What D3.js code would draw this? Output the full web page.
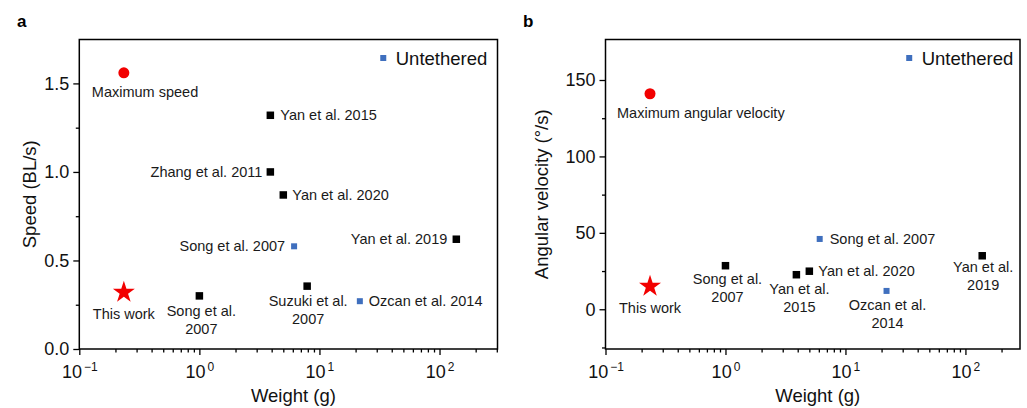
<!DOCTYPE html>
<html>
<head>
<meta charset="utf-8">
<script src="https://cdnjs.cloudflare.com/ajax/libs/d3/7.8.5/d3.min.js"></script>
<style>
  body { margin: 0; background: #fff; }
  svg { display: block; font-family: "Liberation Sans", Arial, sans-serif; }
</style>
</head>
<body>
<svg width="1027" height="408"></svg>
<script>
// panel a - speed (BL/s) vs weight (g)
var speedNames = ["Yan et al. 2015", "Zhang et al. 2011", "Yan et al. 2020", "Song et al. 2007",
                  "Yan et al. 2019", "Song et al.\n2007", "Suzuki et al.\n2007", "Ozcan et al. 2014"];
var speedWeight = [3.9, 3.9, 5.0, 6.15, 138, 1.0, 7.9, 21.7];
var speedValues = [1.32, 1.0, 0.87, 0.58, 0.62, 0.30, 0.355, 0.27];
var speedUntethered = [false, false, false, true, false, false, false, true];

// panel b - angular velocity (deg/s) vs weight (g)
var angNames = ["Song et al.\n2007", "Yan et al.\n2015", "Yan et al. 2020", "Song et al. 2007",
                "Yan et al.\n2019", "Ozcan et al.\n2014"];
var angWeight = [1.0, 3.9, 5.0, 6.1, 138, 22];
var angValues = [28.5, 22.6, 24.9, 46, 35, 12];
var angUntethered = [false, false, false, true, false, true];

// this work
var thisWorkWeight = 0.235;
var thisWorkSpeed = 0.32, maxSpeed = 1.56;
var thisWorkAng = 15, maxAng = 141;

var weightTicks = [0.1, 1, 10, 100];
var weightExp = ["\u22121", "0", "1", "2"];
var speedTicks = [0, 0.5, 1.0, 1.5];
var angTicks = [0, 50, 100, 150];

// label placement: side (r = right, l = left, b = below) and offsets in px
var speedLabelPos = [["r", 10, 0], ["l", -8, 0], ["r", 9, 0], ["l", -9, 0],
                     ["l", -9, 0], ["b", 2, 20.5], ["b", 1, 20], ["r", 9, 0]];
var angLabelPos = [["b", 2, 18.5], ["b", 3, 19.5], ["r", 9, 0], ["r", 10, 0],
                   ["b", 1, 16.5], ["b", 1, 19]];

var blue = "#3f6fbe", red = "#f20000", ink = "#111";
var svg = d3.select("svg");

function drawPanel(o) {
  var g = svg.append("g");
  var x = d3.scaleLog().domain(o.xDomain).range([o.left, o.right]);
  var y = d3.scaleLinear().domain(o.yDomain).range([o.bottom, o.top]);

  // minor ticks
  var xMinor = [];
  [0.1, 1, 10, 100].forEach(function (d) {
    for (var k = 2; k <= 9; k++) if (d * k <= o.xDomain[1]) xMinor.push(d * k);
  });
  g.append("g").attr("transform", "translate(0," + o.bottom + ")")
    .call(d3.axisBottom(x).tickValues(xMinor).tickSize(3.5).tickSizeOuter(0).tickFormat(""));
  g.append("g").attr("transform", "translate(" + o.left + ",0)")
    .call(d3.axisLeft(y).tickValues(o.yMinor).tickSize(3.5).tickSizeOuter(0).tickFormat(""));

  // major ticks
  var xa = g.append("g").attr("transform", "translate(0," + o.bottom + ")")
    .call(d3.axisBottom(x).tickValues(weightTicks).tickSize(6).tickSizeOuter(0).tickPadding(10));
  xa.selectAll(".tick text").each(function (d, i) {
    var t = d3.select(this).text("").attr("font-size", 18).attr("fill", ink);
    t.append("tspan").text("10");
    t.append("tspan").attr("font-size", 12).attr("dx", 2).attr("dy", -7).text(weightExp[i]);
  });
  var ya = g.append("g").attr("transform", "translate(" + o.left + ",0)")
    .call(d3.axisLeft(y).tickValues(o.yTicks).tickSize(6).tickSizeOuter(0).tickPadding(4)
      .tickFormat(o.yFormat));
  ya.selectAll(".tick text").attr("font-size", 18).attr("fill", ink);
  g.selectAll(".domain").attr("stroke", "none");
  g.selectAll(".tick line").attr("stroke", "#000").attr("stroke-width", 1.3);

  // frame
  g.append("rect").attr("x", o.left).attr("y", o.top)
    .attr("width", o.right - o.left).attr("height", o.bottom - o.top)
    .attr("fill", "none").attr("stroke", "#000").attr("stroke-width", 1.5);

  // titles
  g.append("text").attr("x", (o.left + o.right) / 2 + 5).attr("y", 402)
    .attr("text-anchor", "middle").attr("font-size", 18.5).attr("fill", ink).text("Weight (g)");
  g.append("text").attr("transform", "translate(" + o.yTitleX + "," + (o.top + o.bottom) / 2 + ") rotate(-90)")
    .attr("text-anchor", "middle").attr("font-size", 18.5).attr("fill", ink).text(o.yTitle);
  g.append("text").attr("x", o.letterX).attr("y", 27).attr("font-size", 17)
    .attr("font-weight", "bold").attr("fill", "#000").text(o.letter);

  // legend
  var lx = x(o.legendAt), ly = 58;
  g.append("rect").attr("x", lx - 3).attr("y", ly - 3).attr("width", 6).attr("height", 6).attr("fill", blue);
  g.append("text").attr("x", lx + 12.5).attr("y", ly + 7).attr("font-size", 18.5)
    .attr("fill", ink).text("Untethered");

  // literature points
  var pts = o.names.map(function (n, i) {
    return { name: n, w: o.weights[i], v: o.values[i], un: o.untethered[i], pos: o.labelPos[i] };
  });
  g.selectAll("rect.pt").data(pts).enter().append("rect").attr("class", "pt")
    .attr("x", function (d) { return x(d.w) - (d.un ? 3 : 3.75); })
    .attr("y", function (d) { return y(d.v) - (d.un ? 3 : 3.75); })
    .attr("width", function (d) { return d.un ? 6 : 7.5; })
    .attr("height", function (d) { return d.un ? 6 : 7.5; })
    .attr("fill", function (d) { return d.un ? blue : "#000"; });

  pts.forEach(function (d) {
    var px = x(d.w), py = y(d.v), side = d.pos[0];
    var t = g.append("text").attr("font-size", 14.5).attr("fill", "#1a1a1a");
    if (side === "b") {
      t.attr("text-anchor", "middle");
      d.name.split("\n").forEach(function (line, k) {
        t.append("tspan").attr("x", px + d.pos[1]).attr("y", py + d.pos[2] + k * 18).text(line);
      });
    } else {
      t.attr("text-anchor", side === "r" ? "start" : "end")
        .attr("x", px + d.pos[1]).attr("y", py + 5).text(d.name);
    }
  });

  // this work: maximum point and star
  g.append("circle").attr("cx", x(thisWorkWeight)).attr("cy", y(o.maxValue)).attr("r", 5.5).attr("fill", red);
  g.append("text").attr("x", x(thisWorkWeight) - o.maxDx).attr("y", y(o.maxValue) + 24)
    .attr("font-size", 14.5).attr("fill", "#1a1a1a").text(o.maxLabel);
  g.append("path").attr("d", d3.symbol().type(d3.symbolStar).size(150))
    .attr("transform", "translate(" + x(thisWorkWeight) + "," + y(o.workValue) + ")")
    .attr("fill", red);
  g.append("text").attr("x", x(thisWorkWeight)).attr("y", y(o.workValue) + 27)
    .attr("text-anchor", "middle").attr("font-size", 14.5).attr("fill", "#1a1a1a").text("This work");
}

drawPanel({
  left: 79.3, right: 497.5, top: 39.5, bottom: 349,
  xDomain: [0.1, 304], yDomain: [0, 1.748],
  yTicks: speedTicks, yMinor: [0.25, 0.75, 1.25], yFormat: d3.format(".1f"),
  yTitle: "Speed (BL/s)", yTitleX: 36, letter: "a", letterX: 17,
  legendAt: 34,
  names: speedNames, weights: speedWeight, values: speedValues,
  untethered: speedUntethered, labelPos: speedLabelPos,
  maxValue: maxSpeed, maxLabel: "Maximum speed", maxDx: 32, workValue: thisWorkSpeed
});

drawPanel({
  left: 605.5, right: 1020, top: 39.5, bottom: 349,
  xDomain: [0.1, 285], yDomain: [-26, 176.5],
  yTicks: angTicks, yMinor: [-25, 25, 75, 125], yFormat: d3.format("d"),
  yTitle: "Angular velocity (\u00b0/s)", yTitleX: 548, letter: "b", letterX: 523,
  legendAt: 34,
  names: angNames, weights: angWeight, values: angValues,
  untethered: angUntethered, labelPos: angLabelPos,
  maxValue: maxAng, maxLabel: "Maximum angular velocity", maxDx: 33, workValue: thisWorkAng
});
</script>
</body>
</html>
